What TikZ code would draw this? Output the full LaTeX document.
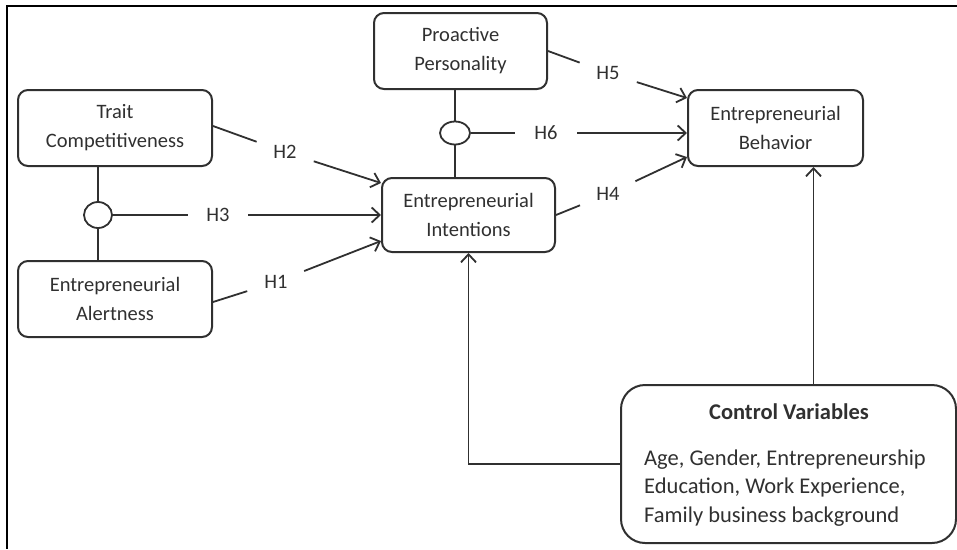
\documentclass[tikz,border=0pt]{standalone}
\usepackage{fontspec}
\setmainfont{Carlito}
\usetikzlibrary{arrows.meta,shapes.geometric}
\definecolor{ink}{HTML}{303030}

\begin{document}
\begin{tikzpicture}[x=1pt, y=-1pt, font=\fontsize{20.5}{29}\selectfont,
  >={Straight Barb[length=8pt,width=15pt,line width=1.8pt]},
  box/.style={draw=ink, line width=2pt, rounded corners=10pt, align=center, text=ink, inner sep=0pt},
  hyp/.style={circle, minimum size=60pt, inner sep=0pt, text=ink},
  link/.style={draw=ink, line width=1.8pt},
  joint/.style={ellipse, draw=ink, line width=1.8pt, fill=white, inner sep=0pt}]
  \useasboundingbox (0,0) rectangle (957,549);
  \draw[line width=2.8pt] (957,6) -- (7,6) -- (7,549);

  \node[box, minimum width=194pt, minimum height=76pt] (trait) at (115,128) {Trait\\Competitiveness};
  \node[box, minimum width=194pt, minimum height=76pt] (alert) at (115,299) {Entrepreneurial\\Alertness};
  \node[box, minimum width=173pt, minimum height=76pt] (proact) at (460.5,51) {Proactive\\Personality};
  \node[box, minimum width=173pt, minimum height=74pt] (intent) at (468.5,215) {Entrepreneurial\\Intentions};
  \node[box, minimum width=175pt, minimum height=76pt] (behav) at (775.5,128) {Entrepreneurial\\Behavior};
  \node[box, rounded corners=24pt, minimum width=335pt, minimum height=158pt] (ctrl) at (788.5,464) {};
  \node[text=ink, font=\fontsize{22.5}{29}\selectfont\bfseries] (ctrltitle) at (789,412) {Control Variables};
  \node[text=ink, anchor=west, align=left, inner sep=0pt, font=\fontsize{22.5}{28.5}\selectfont] (ctrltext) at (644,488)
    {Age, Gender, Entrepreneurship\\Education, Work Experience,\\Family business background};

  \node[joint, minimum width=28pt, minimum height=26pt] (circa) at (98,215) {};
  \node[joint, minimum width=30pt, minimum height=23pt] (circb) at (455,133) {};
  \draw[link] (circa) -- (circa |- trait.south);
  \draw[link] (circa) -- (circa |- alert.north);
  \draw[link] (circb) -- (circb |- proact.south);
  \draw[link] (circb) -- (circb |- intent.north);

  \node[hyp] (h1) at (276,282) {H1};
  \node[hyp] (h2) at (285,152) {H2};
  \node[hyp] (h3) at (218,215) {H3};
  \node[hyp] (h4) at (608,194) {H4};
  \node[hyp] (h5) at (608,73) {H5};
  \node[hyp, minimum size=62pt] (h6) at (546,133) {H6};

  \draw[link] ([yshift=-3pt]alert.east) -- (h1);
  \draw[link, ->] (h1) -- ([yshift=-26pt]intent.west);
  \draw[link] ([yshift=2pt]trait.east) -- (h2);
  \draw[link, ->] (h2) -- ([yshift=32pt]intent.west);
  \draw[link] (circa) -- (h3);
  \draw[link, ->] (h3) -- (intent.west);
  \draw[link] (intent.east) -- (h4);
  \draw[link, ->] (h4) -- ([yshift=-29pt]behav.west);
  \draw[link] (proact.east) -- (h5);
  \draw[link, ->] (h5) -- ([yshift=30pt]behav.west);
  \draw[link] (circb) -- (h6);
  \draw[link, ->] (h6) -- (h6 -| behav.west);

  \draw[link, ->] ([xshift=25pt]ctrl.north) -- ([xshift=25pt]ctrl.north |- behav.south);
  \draw[link, ->] (ctrl.west) -| (intent.south);
\end{tikzpicture}
\end{document}
